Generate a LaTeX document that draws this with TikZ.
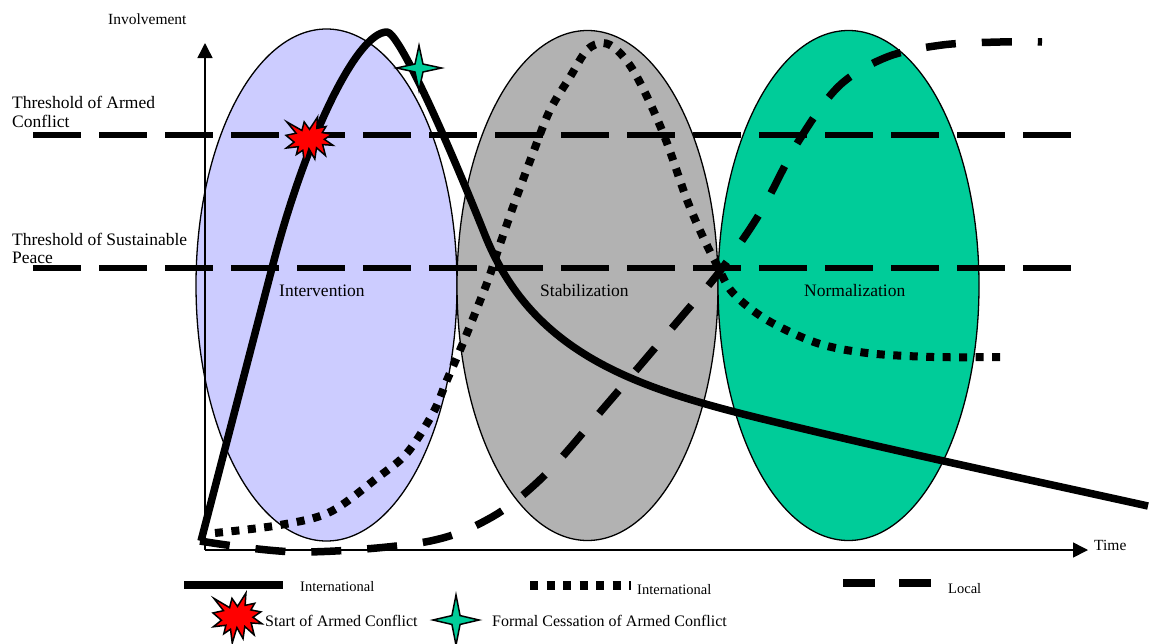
\documentclass[tikz,border=0pt]{standalone}
\usepackage{fontspec}
\setmainfont{Liberation Serif}
\usetikzlibrary{arrows.meta}
\definecolor{lavender}{HTML}{CCCCFF}
\definecolor{stabgray}{HTML}{B2B2B2}
\definecolor{normgreen}{HTML}{00CC99}

\begin{document}
\begin{tikzpicture}[x=1pt,y=-1pt,
  phase/.style={draw=black, line width=1.3pt},
  threshold/.style={line width=6pt, dash pattern=on 48pt off 18pt},
  intl/.style={line width=7.5pt, line join=round},
  intldot/.style={line width=8pt, dash pattern=on 8pt off 8.5pt},
  localdash/.style={line width=7.5pt, dash pattern=on 30pt off 26pt},
  legdash/.style={line width=8pt, dash pattern=on 32pt off 24pt},
  axisline/.style={line width=1.5pt, -{Triangle[length=15pt,width=15pt]}},
  lbl/.style={inner sep=0pt, anchor=base west, font=\fontsize{17.5}{19}\selectfont},
  axlbl/.style={inner sep=0pt, anchor=base west, font=\fontsize{15.5}{18}\selectfont},
  leglbl/.style={inner sep=0pt, anchor=base west, font=\fontsize{14.5}{17}\selectfont},
  keylbl/.style={inner sep=0pt, anchor=base west, font=\fontsize{16}{18}\selectfont},
  burstline/.style={draw=black, fill=red, line width=1.5pt, line join=miter},
  sparkline/.style={draw=black, fill=normgreen, line width=1.5pt, line join=miter},
  burst/.pic={
    \path[burstline] (50,26.85) -- (67.23,0) -- (65.53,24.65) -- (85.09,20.63)
      -- (77.32,33.87) -- (97.67,37.67) -- (81.51,48.50) -- (100,61.53)
      -- (77.95,59.92) -- (84.00,83.77) -- (64.91,66.93) -- (61.33,91.38)
      -- (48.76,69.14) -- (39.28,100) -- (35.72,72.35) -- (22.05,81.56)
      -- (26.24,64.52) -- (0.63,67.53) -- (17.23,54.51) -- (0,39.88)
      -- (21.42,35.26) -- (1.71,10.63) -- (33.85,29.26) -- (38.67,10.63) -- cycle;
  },
  spark/.pic={
    \path[sparkline] (0,-100) -- (17.7,-17.7) -- (100,0) -- (17.7,17.7)
      -- (0,100) -- (-17.7,17.7) -- (-100,0) -- (-17.7,-17.7) -- cycle;
  }
]
\useasboundingbox (0,0) rectangle (1150,643);

% phases
\path[phase, fill=lavender] (326.5,285) ellipse [x radius=130.5, y radius=256];
\path[phase, fill=stabgray] (587.5,285.5) ellipse [x radius=130.5, y radius=255];
\path[phase, fill=normgreen] (848.5,285.5) ellipse [x radius=130.5, y radius=255];

\node[lbl] (intervention) at (279,296) {Intervention};
\node[lbl] (stabilization) at (540,296) {Stabilization};
\node[lbl] (normalization) at (804,296) {Normalization};

% axes
\coordinate (origin) at (205,550);
\coordinate (ytip) at (205,43);
\coordinate (xtip) at (1088,550);
\draw[axisline] (origin) -- (ytip);
\draw[axisline] (origin) -- (xtip);
\node[axlbl] (involvement) at (108,24) {Involvement};
\node[axlbl] (time) at (1094,550) {Time};

% thresholds
\draw[threshold] (33,135) -- (1073,135);
\draw[threshold] (33,268) -- (1073,268);
\node[lbl] (armed1) at (12,108) {Threshold of Armed};
\node[lbl] (armed2) at (12,127) {Conflict};
\node[lbl] (peace1) at (12,245) {Threshold of Sustainable};
\node[lbl] (peace2) at (12,263) {Peace};

% local involvement
\draw[localdash] plot[smooth, tension=0.55] coordinates {
  (200,541) (300,552) (425,542) (492,517) (547,473) (608,403) (683,315)
  (720,271) (760,213) (798,142) (839,86) (887,57) (942,45) (1000,42) (1042,42)};

% international involvement (dotted)
\draw[intldot] plot[smooth, tension=0.55] coordinates {
  (215,533) (280,525) (330,512) (377,478) (407,453) (433,413) (447,380)
  (463,343) (487,283) (497,253) (513,207) (533,153) (550,110) (570,77)
  (587,50) (603,43) (617,50) (633,70) (650,103) (667,143) (687,200)
  (703,237) (717,265) (733,293) (767,320) (817,343) (867,353) (933,357) (1003,357)};

% international involvement (solid)
\draw[intl] (201,541) -- (272,268)
  .. controls (305.5,138) and (357,32) .. (387,32)
  .. controls (397,32) and (436.3,113.2) .. (485,235)
  .. controls (537,365) and (655.4,393.4) .. (800,428)
  .. controls (900,452) and (1030,480) .. (1148,506);

% events
\begin{scope}[shift={(286,117)}, x=0.47pt, y=-0.46pt]
  \pic {burst};
\end{scope}
\begin{scope}[shift={(419,68)}, x=0.225pt, y=-0.225pt]
  \pic {spark};
\end{scope}

% key
\draw[line width=8pt] (184,585) -- (283,585);
\node[leglbl] (keyintl) at (300,591) {International};
\draw[intldot, line width=9pt] (530,585) -- (631,585);
\node[leglbl] (keyintldot) at (637,594) {International};
\draw[legdash] (843,583) -- (931,583);
\node[leglbl] (keylocal) at (948,593) {Local};
\begin{scope}[shift={(213,593)}, x=0.49pt, y=-0.5pt]
  \pic {burst};
\end{scope}
\node[keylbl] (keystart) at (265,626) {Start of Armed Conflict};
\begin{scope}[shift={(456,620)}, x=0.23pt, y=-0.25pt]
  \pic {spark};
\end{scope}
\node[keylbl] (keycease) at (492,626) {Formal Cessation of Armed Conflict};
\end{tikzpicture}
\end{document}
